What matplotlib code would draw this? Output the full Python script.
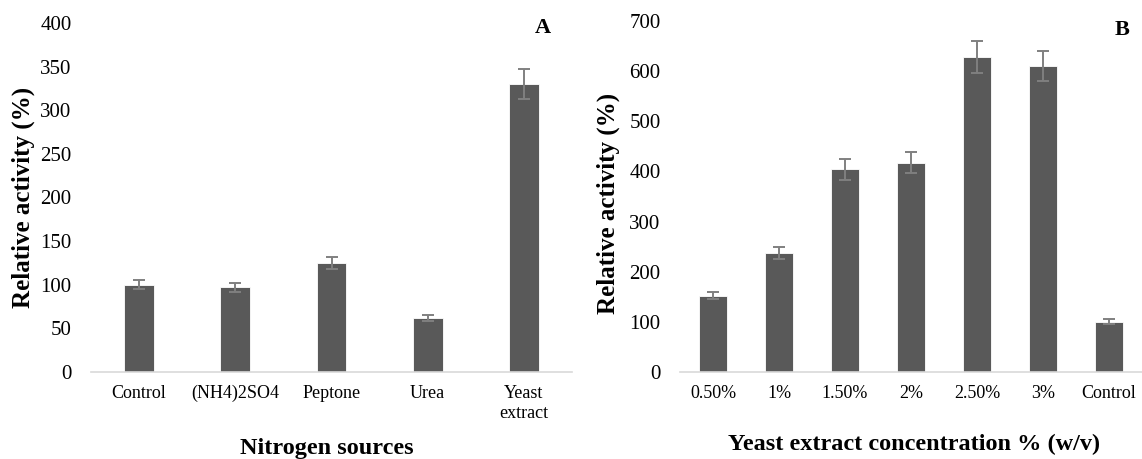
import matplotlib
matplotlib.use("Agg")
import matplotlib.pyplot as plt
import numpy as np

plt.rcParams["font.family"] = ["Liberation Serif", "DejaVu Serif"]

# Panel A - nitrogen sources
sources = ["Control", "(NH4)2SO4", "Peptone", "Urea", "Yeast\nextract"]
sources_activity = [100, 97, 125, 62, 330]
sources_err = [5, 5, 6.5, 3.5, 17]

# Panel B - yeast extract concentration
concentrations = ["0.50%", "1%", "1.50%", "2%", "2.50%", "3%", "Control"]
conc_activity = [152, 238, 404, 417, 628, 610, 100]
conc_err = [7, 12, 21, 21, 32, 30, 5]

BAR_COLOR = "#595959"
ERR_COLOR = "#808080"
AXIS_COLOR = "#d9d9d9"


def panel(ax, labels, values, errors, width, ymax, step, letter, letter_pos):
    x = np.arange(len(labels))
    ax.bar(x, values, width=width, color=BAR_COLOR, edgecolor="white",
           linewidth=0.6, zorder=2)
    ax.errorbar(x, values, yerr=errors, fmt="none", ecolor=ERR_COLOR,
                elinewidth=1.4, capsize=4, capthick=1.4, zorder=3)
    ax.set_xlim(-0.5, len(labels) - 0.5)
    ax.set_ylim(0, ymax)
    ax.set_yticks(np.arange(0, ymax + 1, step))
    ax.set_xticks(x)
    ax.set_xticklabels(labels, fontsize=13, linespacing=1.3)
    ax.tick_params(axis="y", length=0, labelsize=15, pad=14)
    ax.tick_params(axis="x", length=0, pad=9)
    for side in ["top", "right", "left"]:
        ax.spines[side].set_visible(False)
    ax.spines["bottom"].set_color(AXIS_COLOR)
    ax.spines["bottom"].set_linewidth(1.2)
    ax.text(letter_pos[0], letter_pos[1], letter, transform=ax.transAxes,
            fontsize=16, fontweight="bold", ha="center", va="center")
    ax.yaxis.label.set_va("center")
    ax.xaxis.label.set_va("center")


fig = plt.figure(figsize=(11.42, 4.59), dpi=100)

ax_a = fig.add_axes([91 / 1142, 87 / 459, 481 / 1142, 349 / 459])
panel(ax_a, sources, sources_activity, sources_err, 0.31, 400, 50, "A",
      (0.94, 0.985))
ax_a.set_ylabel("Relative activity (%)", fontsize=18, fontweight="bold",
                va="center")
ax_a.yaxis.set_label_coords(-0.14, 0.5)
ax_a.set_xlabel("Nitrogen sources", fontsize=17.5, fontweight="bold",
                va="center")
ax_a.xaxis.set_label_coords(0.49, -0.22)

ax_b = fig.add_axes([680 / 1142, 87 / 459, 462 / 1142, 351 / 459])
panel(ax_b, concentrations, conc_activity, conc_err, 0.41, 700, 100, "B",
      (0.957, 0.975))
ax_b.set_ylabel("Relative activity (%)", fontsize=18, fontweight="bold",
                va="center")
ax_b.yaxis.set_label_coords(-0.156, 0.48)
ax_b.set_xlabel("Yeast extract concentration % (w/v)", fontsize=17.5,
                fontweight="bold", va="center")
ax_b.xaxis.set_label_coords(0.506, -0.205)

fig.savefig("out.png", dpi=100)
